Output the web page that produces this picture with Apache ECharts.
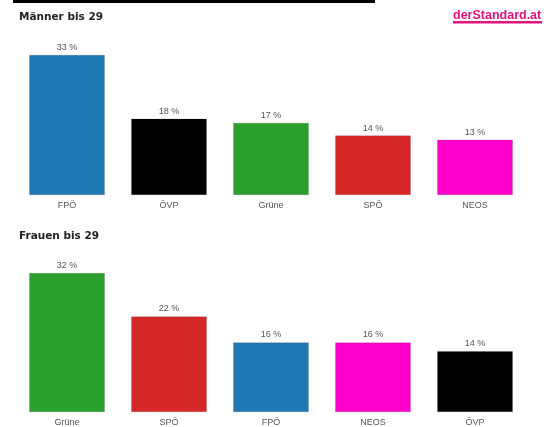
<!DOCTYPE html>
<html>
<head>
<meta charset="utf-8">
<script src="https://cdn.jsdelivr.net/npm/echarts@6/dist/echarts.min.js"></script>
<style>
html,body{margin:0;padding:0;background:#fff;}
#c{width:552px;height:427px;}
</style>
</head>
<body>
<div id="c"></div>
<script>
var menTitle = 'Männer bis 29';
var menCategories = ['FPÖ', 'ÖVP', 'Grüne', 'SPÖ', 'NEOS'];
var menValues = [33, 18, 17, 14, 13];

var womenTitle = 'Frauen bis 29';
var womenCategories = ['Grüne', 'SPÖ', 'FPÖ', 'NEOS', 'ÖVP'];
var womenValues = [32, 22, 16, 16, 14];

var partyColors = {
  'FPÖ': '#1f77b4',
  'ÖVP': '#000000',
  'Grüne': '#2ca02c',
  'SPÖ': '#d62728',
  'NEOS': '#ff00cc'
};

function items(cats, vals) {
  return vals.map(function (v, i) {
    return { value: v, itemStyle: { color: partyColors[cats[i]] } };
  });
}

var chart = echarts.init(document.getElementById('c'), null, { renderer: 'canvas' });

var labelStyle = { fontFamily: 'Arial, Liberation Sans, sans-serif', fontSize: 9, color: '#555' };
var titleStyle = { fontFamily: '"DejaVu Sans", sans-serif', fontSize: 10.5, fontWeight: 'bold', color: '#222' };

function xAx(gi, cats) {
  return {
    type: 'category', gridIndex: gi, data: cats,
    axisLine: { show: false }, axisTick: { show: false },
    axisLabel: Object.assign({ margin: 6, interval: 0 }, labelStyle)
  };
}
function yAx(gi) {
  return {
    type: 'value', gridIndex: gi, min: 0, max: 'dataMax', show: false,
    splitLine: { show: false }
  };
}
function ser(i, cats, vals) {
  return {
    type: 'bar', xAxisIndex: i, yAxisIndex: i,
    data: items(cats, vals), barWidth: '74%',
    itemStyle: { borderColor: 'rgba(0,0,0,0.25)', borderWidth: 0.5 },
    label: Object.assign({
      show: true, position: 'top', distance: 3,
      formatter: function (p) { return p.value + ' %'; }
    }, labelStyle),
    animation: false
  };
}

chart.setOption({
  animation: false,
  backgroundColor: '#ffffff',
  title: [
    { text: menTitle, left: 19, top: 12, padding: 0, textStyle: titleStyle },
    { text: womenTitle, left: 19, top: 231, padding: 0, textStyle: titleStyle }
  ],
  graphic: [
    { type: 'rect', shape: { x: 13, y: 0, width: 362, height: 3 }, style: { fill: '#000' } },
    { type: 'text', left: 453, top: 9,
      style: { text: 'derStandard.at', fill: '#e0137f',
        font: 'bold 12.5px "Liberation Sans", Arial, sans-serif' } },
    { type: 'rect', shape: { x: 453, y: 21, width: 89, height: 2.5 }, style: { fill: '#e0137f' } }
  ],
  grid: [
    { left: 16, width: 510, top: 55, height: 140 },
    { left: 16, width: 510, top: 273, height: 140 }
  ],
  xAxis: [xAx(0, menCategories), xAx(1, womenCategories)],
  yAxis: [yAx(0), yAx(1)],
  series: [ser(0, menCategories, menValues), ser(1, womenCategories, womenValues)]
});
</script>
</body>
</html>
